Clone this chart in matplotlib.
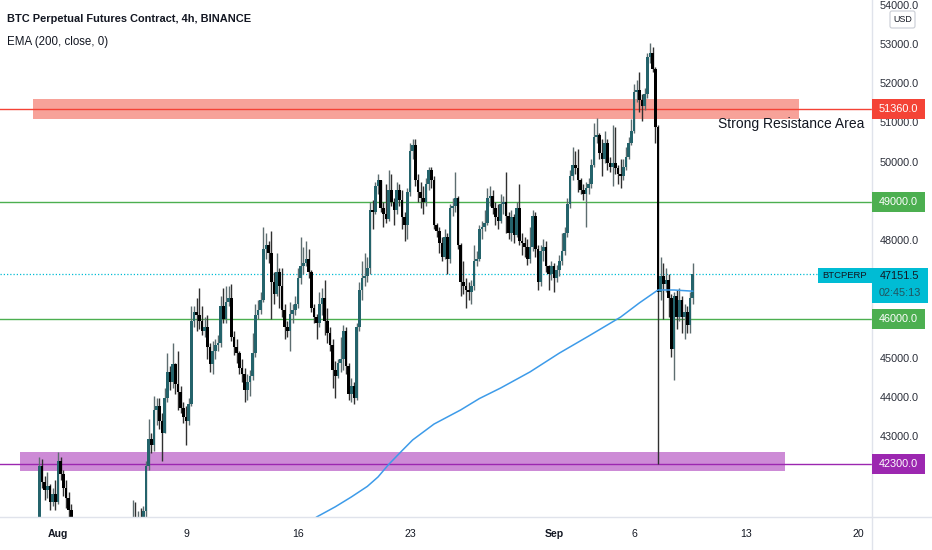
import matplotlib
matplotlib.use("Agg")
import matplotlib.pyplot as plt
from matplotlib.patches import Rectangle, FancyBboxPatch
import numpy as np

plt.rcParams['font.family'] = ['Liberation Sans', 'DejaVu Sans']

# ---------------- data ----------------
title_text = "BTC Perpetual Futures Contract, 4h, BINANCE"
indicator_text = "EMA (200, close, 0)"
symbol = "BTCPERP"
countdown = "02:45:13"
currency = "USD"
zone_text = "Strong Resistance Area"

first_candle_day = -7 / 6      # days from 2021-08-01 00:00 (Jul 30, 20:00)
candle_step_days = 1 / 6       # 4h candles
first_open = 40600

closes = [
    42250, 41850, 41650, 41750, 41350, 41550,
    41350, 42400, 42050, 41700, 41450, 41150,
    40700, 40300, 39900, 40100, 39700, 39400,
    39500, 39000, 38700, 38400, 38600, 38200,
    38100, 37700, 38000, 38600, 39100, 39500,
    39700, 39300, 38200, 39200, 40300, 40700,
    40500, 40800, 40600, 41100, 42250, 42950,
    42800, 43700, 43800, 43400, 43100, 44000,
    44650, 44400, 44850, 44350, 44150, 43750,
    43500, 43400, 43850, 45950, 46200, 46100,
    45950, 45700, 45800, 45300, 44850, 45200,
    45350, 45400, 46350, 46000, 46450, 46550,
    45550, 45300, 45150, 44750, 44600, 44200,
    44400, 44550, 45150, 46100, 46250, 46500,
    47800, 47900, 47700, 46950, 46650, 47200,
    46850, 46250, 45800, 45700, 46150, 46250,
    46400, 47050, 47350, 47450, 47550, 47200,
    46300, 46050, 45900, 46400, 46550, 45950,
    45650, 45350, 44700, 44550, 44900, 45000,
    45700, 44800, 44100, 44300, 44000, 45800,
    46750, 47050, 47100, 47300, 48800, 48750,
    49400, 49550, 48850, 48700, 48550, 49300,
    49000, 48800, 49300, 49050, 48600, 48400,
    49250, 50300, 50450, 49550, 49250, 49100,
    49000, 49450, 49800, 49550, 48400, 48250,
    47950, 47600, 48100, 47550, 48850, 48900,
    49100, 47900, 46950, 46850, 46750, 46700,
    46850, 47500, 47550, 48300, 48350, 48450,
    49100, 49150, 48850, 48600, 48500, 48950,
    49000, 48650, 48200, 48600, 48150, 48850,
    48000, 47950, 47850, 47550, 47850, 48650,
    47800, 46950, 47750, 47850, 47350, 47150,
    47350, 47050, 47250, 47500, 47750, 48200,
    48950, 49650, 49950, 49850, 49550, 49300,
    49200, 49350, 49450, 49950, 50650, 50700,
    50250, 50100, 50500, 50000, 49900, 50000,
    49850, 49700, 49650, 49900, 50150, 50500,
    50800, 51800, 51850, 51600, 51450, 51750,
    52700, 52800, 52400, 50900, 46700, 47100,
    46900, 47000, 46550, 45250, 46600, 46050,
    46500, 46050, 46200, 45850, 46550, 47151.5,
]

highs = [
    42480, 42450, 42000, 42100, 41800, 41700,
    41900, 42620, 42500, 42150, 41900, 41600,
    41300, 40750, 40400, 40300, 40150, 39800,
    39800, 39600, 39200, 38900, 38800, 38700,
    38400, 38200, 38200, 38800, 39300, 39700,
    39900, 39800, 39400, 39400, 40600, 41400,
    41350, 41100, 41200, 41250, 42400, 43450,
    43100, 44050, 44000, 44000, 43600, 44250,
    45150, 44800, 45400, 44900, 45200, 44300,
    43900, 43800, 44000, 46350, 46350, 46550,
    46800, 46350, 46050, 46100, 45400, 45450,
    45500, 45600, 46600, 46800, 46850, 46850,
    46900, 45700, 45500, 45200, 45000, 44750,
    44600, 44700, 45650, 46400, 46500, 46700,
    48350, 48200, 48000, 48250, 47200, 47700,
    47300, 47300, 46400, 45950, 46450, 46400,
    46600, 47300, 48100, 47850, 48000, 47800,
    47250, 46400, 46150, 46700, 46800, 47000,
    46300, 45800, 45500, 44950, 45000, 45550,
    45850, 45800, 44900, 44500, 44400, 45900,
    46950, 47500, 47700, 47600, 49000, 49050,
    49500, 49700, 49500, 49000, 49450, 49800,
    49700, 49100, 49500, 49450, 49300, 48750,
    49350, 50500, 50600, 50600, 49700, 49500,
    49400, 49600, 49900, 49900, 49650, 48450,
    48350, 48100, 48300, 48200, 48950, 49100,
    49750, 49150, 47950, 47500, 47050, 46950,
    47000, 47900, 47750, 48400, 48500, 48800,
    49350, 49400, 49300, 49000, 48950, 49200,
    49150, 49750, 48750, 48800, 48700, 49000,
    49450, 48200, 48100, 48050, 48350, 48800,
    48750, 47900, 47900, 48050, 48000, 47400,
    47500, 47450, 47400, 47650, 48200, 48350,
    49100, 49800, 50400, 50300, 50350, 49600,
    49450, 49500, 49600, 50100, 51000, 51150,
    50750, 50600, 50800, 50600, 50150, 50950,
    50900, 49950, 50100, 50100, 50400, 50650,
    51100, 52000, 52100, 52300, 51750, 51900,
    52800, 53050, 52950, 52450, 50950, 47600,
    47450, 47300, 47150, 46650, 46700, 46750,
    46800, 46600, 46400, 46350, 46700, 47450,
]

lows = [
    40500, 41700, 41400, 41450, 41150, 41250,
    41150, 41300, 41900, 41500, 41200, 40950,
    40400, 40100, 39700, 39800, 39500, 39200,
    39200, 38800, 38500, 38100, 38200, 37900,
    37800, 37400, 37600, 37900, 38500, 38900,
    39300, 39100, 37900, 38100, 39100, 40200,
    40200, 40300, 40400, 40500, 40950, 42150,
    42600, 42650, 43300, 43200, 42400, 43100,
    43900, 44200, 44250, 44100, 43700, 43600,
    43350, 42800, 43300, 43800, 45800, 45700,
    45750, 45600, 45550, 45000, 44650, 44600,
    45000, 45200, 45300, 45900, 45900, 46350,
    45450, 45100, 44900, 44600, 44400, 43900,
    43950, 44050, 44450, 45050, 46000, 46150,
    46450, 47550, 47450, 46000, 46400, 46600,
    46300, 46050, 45500, 45550, 45200, 45900,
    46100, 46300, 46900, 47150, 47350, 47050,
    46200, 45900, 45500, 45800, 46100, 45600,
    45400, 45200, 44250, 44000, 44500, 44650,
    44700, 44600, 43950, 43900, 43850, 43950,
    45700, 46500, 46850, 46950, 47150, 48300,
    48700, 49200, 48750, 48350, 48450, 48500,
    48900, 48400, 48700, 48900, 48300, 48000,
    48050, 49150, 50100, 49400, 49000, 48850,
    48700, 48900, 49300, 49350, 48300, 48100,
    47700, 47500, 47550, 47150, 47450, 48650,
    48750, 47800, 46600, 46650, 46300, 46500,
    46400, 46750, 47350, 47500, 48050, 48250,
    48400, 48900, 48700, 48400, 48300, 48450,
    48700, 48200, 48050, 48000, 47950, 48100,
    47900, 47650, 47600, 47400, 47450, 47750,
    47600, 46750, 46850, 47500, 47200, 46750,
    47000, 46700, 46950, 47100, 47400, 47650,
    48100, 48850, 49550, 49700, 49250, 49200,
    49050, 48350, 49200, 49350, 49900, 50500,
    50100, 49650, 50000, 49800, 49750, 49400,
    49700, 49450, 49350, 49550, 49800, 50100,
    50450, 50750, 51550, 51300, 51050, 51350,
    51650, 52550, 52300, 50500, 42300, 46500,
    46000, 46700, 46050, 45050, 44450, 45750,
    45950, 45650, 45500, 45650, 45650, 46400,
]

# EMA(200) at selected candles
ema_index = [100, 104, 111, 117, 123, 127, 131, 136, 140, 148, 158, 165, 173,
             184, 195, 206, 218, 225, 232, 238, 245]
ema_value = [40750, 40960, 41220, 41470, 41740, 41980, 42300, 42650, 42925, 43330,
             43690, 43980, 44250, 44660, 45140, 45575, 46060, 46420, 46750, 46750, 46720]

level_prices = [51360, 49000, 46000, 42300]
level_colors = ['#f44336', '#4caf50', '#4caf50', '#9c27b0']
last_price = 47151.5

zone_low = [51110, 42130]
zone_high = [51620, 42620]
zone_start_day = [-1.56, -2.37]
zone_end_day = [46.31, 45.44]
zone_colors = ['#f7a299', '#cd8bd6']

price_ticks = [42000, 43000, 44000, 45000, 46000, 47000, 48000,
               49000, 50000, 51000, 52000, 53000, 54000]
date_tick_days = [0, 8, 15, 22, 31, 36, 43, 50]
date_tick_labels = ['Aug', '9', '16', '23', 'Sep', '6', '13', '20']
date_tick_bold = [True, False, False, False, True, False, False, False]

# ---------------- figure ----------------
W, H = 932, 550
PLOT_R, PLOT_B = 872, 517
TXT = '#131722'

fig = plt.figure(figsize=(W / 100, H / 100), dpi=100)
fig.patch.set_facecolor('white')

ax = fig.add_axes([0, 1 - PLOT_B / H, PLOT_R / W, PLOT_B / H])
ax.set_xlim(-58 / 16, (PLOT_R - 58) / 16)
ax.set_ylim(40959, 54148)
ax.set_axis_off()

# zones
for lo_, hi_, d0, d1, col in zip(zone_low, zone_high, zone_start_day, zone_end_day, zone_colors):
    ax.add_patch(Rectangle((d0, lo_), d1 - d0, hi_ - lo_, facecolor=col, edgecolor='none', zorder=1))

# level lines
for p, col in zip(level_prices, level_colors):
    ax.axhline(p, color=col, lw=1.0, zorder=2)
ax.axhline(last_price, color='#00bcd4', lw=0.9, ls=(0, (1, 1.6)), zorder=2)

# candles
c = np.array(closes, dtype=float)
o = np.concatenate([[first_open], c[:-1]])
hi = np.maximum(np.array(highs, dtype=float), np.maximum(o, c))
lo = np.minimum(np.array(lows, dtype=float), np.minimum(o, c))
t = first_candle_day + np.arange(len(c)) * candle_step_days
up = c >= o
ax.vlines(t, lo, hi, colors=np.where(up, '#5d6d70', '#303030'), lw=1.0, zorder=3)
body_h = np.maximum(np.abs(c - o), 35)
ax.bar(t, body_h, bottom=np.minimum(o, c), width=0.15,
       color=np.where(up, '#24636b', '#000000'), linewidth=0, zorder=4)

# EMA
ema_t = first_candle_day + np.array(ema_index) * candle_step_days
ax.plot(ema_t, ema_value, color='#3d9be9', lw=1.1, zorder=5)

# ---------------- overlay (pixel coords) ----------------
ov = fig.add_axes([0, 0, 1, 1])
ov.set_xlim(0, W)
ov.set_ylim(H, 0)
ov.set_axis_off()
ov.patch.set_visible(False)


def py(price):
    return H - ax.transData.transform((0, price))[1]


def px(day):
    return ax.transData.transform((day, 0))[0]


ov.plot([PLOT_R, PLOT_R], [0, H], color='#e0e3eb', lw=1)
ov.plot([0, W], [PLOT_B, PLOT_B], color='#e0e3eb', lw=1)

# boxes on the price scale (pixel spans)
yl = py(last_price)
covered = [(py(p) - 10, py(p) + 10) for p in level_prices] + [(yl - 6, yl + 29)]

# price ticks (those hidden behind a label box are not shown)
for p in price_ticks:
    y = py(p)
    if any(a - 3 < y < b + 3 for a, b in covered):
        continue
    ov.text(899, y, f"{p:.1f}", ha='center', va='center', fontsize=7.8, color='#2a2e39', zorder=3)

# level boxes
for p, col in zip(level_prices, level_colors):
    y = py(p)
    ov.add_patch(Rectangle((PLOT_R, y - 10), 53, 20, facecolor=col, edgecolor='none', zorder=4))
    ov.text(898.5, y, f"{p:.1f}", ha='center', va='center', fontsize=7.8, color='white', zorder=5)

# last price box
ov.add_patch(Rectangle((818, yl - 6), PLOT_R - 818, 15, facecolor='#00bcd4', edgecolor='none', zorder=4))
ov.add_patch(Rectangle((PLOT_R, yl - 6), 56, 35, facecolor='#00bcd4', edgecolor='none', zorder=4))
ov.text(845, yl + 1.5, symbol, ha='center', va='center', fontsize=6.8, color=TXT, zorder=5)
ov.text(900, yl + 1.5, f"{last_price:.1f}", ha='center', va='center', fontsize=7.8, color=TXT, zorder=5)
ov.text(900, yl + 18.5, countdown, ha='center', va='center', fontsize=7.8, color='#21535e', zorder=5)

# currency box
ov.add_patch(FancyBboxPatch((890, 11), 25, 17, boxstyle='round,pad=0,rounding_size=2',
                            facecolor='white', edgecolor='#c9ccd4', lw=0.8, zorder=6))
ov.text(902.5, 19.5, currency, ha='center', va='center', fontsize=6.4, color=TXT, zorder=7)

# date ticks
for d, lab, b in zip(date_tick_days, date_tick_labels, date_tick_bold):
    ov.text(px(d), 534, lab, ha='center', va='center', fontsize=7.6,
            fontweight='bold' if b else 'normal', color=TXT)

# header texts
ov.text(7, 19, title_text, ha='left', va='center', fontsize=7.9, fontweight='bold', color=TXT)
ov.text(7, 42, indicator_text, ha='left', va='center', fontsize=8.3, color=TXT)

# zone annotation
ov.text(864, py(51360) + 15, zone_text, ha='right', va='center', fontsize=10, color=TXT)

fig.savefig('out.png', dpi=100, facecolor='white')
